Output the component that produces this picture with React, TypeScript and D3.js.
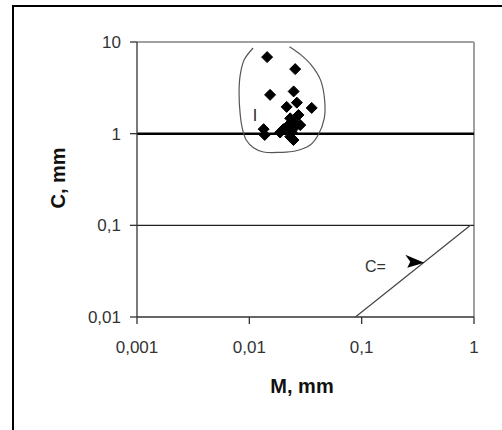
import React from 'react';
import * as d3 from 'd3';

// scatter points (M, C) in mm
const pointM = [0.0144, 0.0256, 0.0153, 0.0248, 0.0265, 0.0359, 0.0215, 0.0274, 0.0231, 0.0247, 0.0223, 0.0256, 0.0284, 0.0201, 0.0188, 0.0134, 0.0137, 0.0239, 0.0231, 0.0247];
const pointC = [6.84, 5.06, 2.65, 2.89, 2.18, 1.91, 1.96, 1.60, 1.47, 1.35, 1.24, 1.19, 1.24, 1.12, 1.03, 1.12, 0.968, 1.03, 0.927, 0.853];

// hand-drawn region "I" outline
const contourM = [0.0108, 0.0090, 0.0083, 0.0081, 0.0083, 0.00865, 0.00938, 0.01089, 0.01337, 0.01884, 0.0256, 0.0348, 0.041, 0.0465, 0.0468, 0.043, 0.0355, 0.0288, 0.0228];
const contourC = [8.6, 6.39, 4.38, 2.9, 1.60, 1.15, 0.853, 0.703, 0.631, 0.625, 0.647, 0.753, 0.968, 1.48, 2.33, 3.86, 5.63, 7.24, 8.9];

// line C = ... and its marker
const lineM = [0.088, 0.93];
const lineC = [0.01, 0.1];
const markM = 0.3;
const markC = 0.04;

const xTicks = [0.001, 0.01, 0.1, 1];
const xTickLabels = ['0,001', '0,01', '0,1', '1'];
const yTicks = [0.01, 0.1, 1, 10];
const yTickLabels = ['0,01', '0,1', '1', '10'];

const W = 502;
const H = 430;
const plot = { left: 137, right: 474, top: 42, bottom: 317 };

export default function App() {
  const x = d3.scaleLog().domain([0.001, 1]).range([plot.left, plot.right]);
  const y = d3.scaleLog().domain([0.01, 10]).range([plot.bottom, plot.top]);

  const contour = d3.line<number>()
    .x((_, i) => x(contourM[i]))
    .y((_, i) => y(contourC[i]))
    .curve(d3.curveCatmullRom)(contourM.map((_, i) => i));

  const diag = d3.line<number>()
    .x((_, i) => x(lineM[i]))
    .y((_, i) => y(lineC[i]))(lineM.map((_, i) => i));

  const diamond = 'M0,-5.5L5.5,0L0,5.5L-5.5,0Z';
  const font = 'Arial, "Liberation Sans", sans-serif';

  return (
    <svg width={W} height={H} style={{ position: 'absolute', left: 0, top: 0, background: '#fff', fontFamily: font }}>
      {/* outer frame */}
      <line x1={12} y1={6} x2={W} y2={6} stroke="#000" strokeWidth={2} />
      <line x1={13} y1={5} x2={13} y2={H} stroke="#000" strokeWidth={2} />

      {/* plot border top/right */}
      <line x1={plot.left} y1={y(10)} x2={x(1)} y2={y(10)} stroke="#a0a0a0" strokeWidth={2} />
      <line x1={x(1)} y1={y(10)} x2={x(1)} y2={y(0.01)} stroke="#a0a0a0" strokeWidth={2} />

      {/* gridlines */}
      <line x1={plot.left} y1={y(1)} x2={x(1)} y2={y(1)} stroke="#000" strokeWidth={2.5} />
      <line x1={plot.left} y1={y(0.1)} x2={x(1)} y2={y(0.1)} stroke="#222" strokeWidth={1.2} />

      {/* axes */}
      <line x1={plot.left} y1={y(10)} x2={plot.left} y2={y(0.01)} stroke="#333" strokeWidth={1.3} />
      <line x1={plot.left} y1={y(0.01)} x2={x(1)} y2={y(0.01)} stroke="#333" strokeWidth={1.3} />
      {yTicks.map((t, i) => (
        <g key={`y-${t}`}>
          <line x1={plot.left - 7} y1={y(t)} x2={plot.left} y2={y(t)} stroke="#333" strokeWidth={1.3} />
          <text x={121} y={y(t) + 6} textAnchor="end" fill="#333" style={{ fontSize: '17px' }}>{yTickLabels[i]}</text>
        </g>
      ))}
      {xTicks.map((t, i) => (
        <g key={`x-${t}`}>
          <line x1={x(t)} y1={y(0.01)} x2={x(t)} y2={y(0.01) + 7} stroke="#333" strokeWidth={1.3} />
          <text x={x(t)} y={353} textAnchor="middle" fill="#333" style={{ fontSize: '17px' }}>{xTickLabels[i]}</text>
        </g>
      ))}

      {/* axis titles */}
      <text x={302} y={393} textAnchor="middle" fill="#111" style={{ fontSize: '20px', fontWeight: 'bold' }}>M, mm</text>
      <text transform="translate(65, 178) rotate(-90)" textAnchor="middle" fill="#111" style={{ fontSize: '20px', fontWeight: 'bold' }}>C, mm</text>

      {/* region outline */}
      <path d={contour ?? ''} fill="none" stroke="#555" strokeWidth={1.2} />
      <text x={255} y={121} textAnchor="middle" fill="#222" style={{ fontSize: '16px' }}>I</text>

      {/* points */}
      {pointM.map((m, i) => (
        <path key={i} d={diamond} transform={`translate(${x(m)}, ${y(pointC[i])})`} fill="#000" stroke="#000" strokeWidth={1} strokeLinejoin="round" />
      ))}

      {/* line and marker */}
      <path d={diag ?? ''} fill="none" stroke="#444" strokeWidth={1.2} />
      <text x={365} y={272} fill="#333" style={{ fontSize: '16px' }}>C=</text>
      <path d="M-10,-7L9,1L-8,6L-5,0Z" transform={`translate(${x(markM)}, ${y(markC)})`} fill="#000" />
    </svg>
  );
}
